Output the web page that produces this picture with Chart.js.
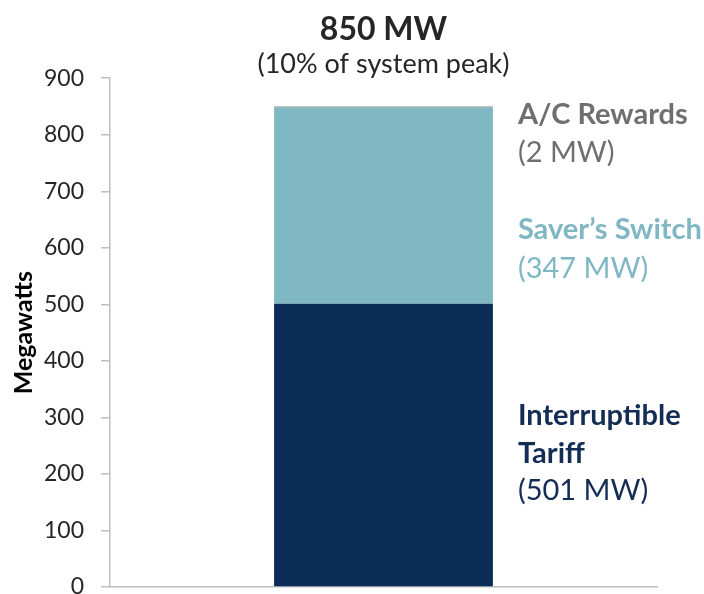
<!DOCTYPE html>
<html>
<head>
<meta charset="utf-8">
<script src="https://cdn.jsdelivr.net/npm/chart.js@4"></script>
<style>
  html, body { margin: 0; padding: 0; background: #fff; }
  #wrap { width: 704px; height: 594px; }
</style>
</head>
<body>
<div id="wrap"><canvas id="cv" width="704" height="594"></canvas></div>
<script>
// data
const categories = [''];
const tariffMW = [501];
const saversMW = [347];
const acMW = [2];
const yTicks = [0, 100, 200, 300, 400, 500, 600, 700, 800, 900];

const navy = '#0b2c57';
const teal = '#7fb7c3';
const grey = '#7f7f7f';
const FONT = 'Lato, "Open Sans", sans-serif';

// side labels next to the bar
const sideLabels = [
  { text: 'A/C Rewards', bold: true, color: '#6f6f6f', y: 115 },
  { text: '(2 MW)', bold: false, color: '#6f6f6f', y: 153 },
  { text: 'Saver\u2019s Switch', bold: true, color: teal, y: 230 },
  { text: '(347 MW)', bold: false, color: teal, y: 269 },
  { text: 'Interruptible', bold: true, color: '#132d55', y: 416 },
  { text: 'Tariff', bold: true, color: '#132d55', y: 454 },
  { text: '(501 MW)', bold: false, color: '#132d55', y: 491 }
];

const sideLabelPlugin = {
  id: 'sideLabels',
  afterDraw(chart) {
    let ctx = chart.ctx;
    let bar = chart.getDatasetMeta(0).data[0];
    let x = bar.x + bar.width / 2 + 25;
    ctx.save();
    ctx.textAlign = 'left';
    ctx.textBaseline = 'middle';
    for (let l of sideLabels) {
      ctx.font = (l.bold ? 'bold ' : '') + '29px ' + FONT;
      ctx.fillStyle = l.color;
      ctx.fillText(l.text, x, l.y);
    }
    ctx.restore();
  }
};

let ctx = document.getElementById('cv').getContext('2d');

new Chart(ctx, {
  type: 'bar',
  data: {
    labels: categories,
    datasets: [
      { label: 'Interruptible Tariff', data: tariffMW, backgroundColor: navy },
      { label: "Saver's Switch", data: saversMW, backgroundColor: teal },
      { label: 'A/C Rewards', data: acMW, backgroundColor: grey }
    ]
  },
  options: {
    responsive: false,
    animation: false,
    barPercentage: 0.8,
    categoryPercentage: 0.5,
    layout: { padding: { left: 0, right: 47, top: 0, bottom: 7 } },
    plugins: {
      legend: { display: false },
      tooltip: { enabled: false },
      title: {
        display: true,
        text: '850 MW',
        fullSize: false,
        color: '#262626',
        font: { family: FONT, size: 32, weight: 'bold', lineHeight: 1.1 },
        padding: { top: 12, bottom: 0 }
      },
      subtitle: {
        display: true,
        text: '(10% of system peak)',
        fullSize: false,
        color: '#262626',
        font: { family: FONT, size: 27, lineHeight: 1.0 },
        padding: { top: 4, bottom: 0 }
      }
    },
    scales: {
      x: {
        stacked: true,
        afterFit(scale) {
          scale.height = 0;
          scale.paddingTop = 0;
          scale.paddingBottom = 0;
        },
        grid: { display: false },
        border: { display: true, color: '#bfbfbf', width: 1.5 },
        ticks: { display: false }
      },
      y: {
        stacked: true,
        min: 0,
        max: 900,
        afterFit(scale) {
          // let the end labels overflow like in the original, keep the axis 110px wide
          scale.width = 110;
          scale.paddingTop = 0;
          scale.paddingBottom = 0;
        },
        afterBuildTicks(scale) { scale.ticks = yTicks.map((v) => ({ value: v })); },
        grid: { drawOnChartArea: false, drawTicks: true, tickLength: 9, color: '#bfbfbf', lineWidth: 1.5 },
        border: { display: true, color: '#bfbfbf', width: 1.5 },
        ticks: {
          color: '#262626',
          padding: 17,
          font: { family: FONT, size: 23 }
        },
        title: {
          display: true,
          text: 'Megawatts',
          color: '#000',
          font: { family: FONT, size: 25, weight: 'bold', lineHeight: 1 },
          padding: { top: 11, bottom: 0 }
        }
      }
    }
  },
  plugins: [sideLabelPlugin]
});
</script>
</body>
</html>
